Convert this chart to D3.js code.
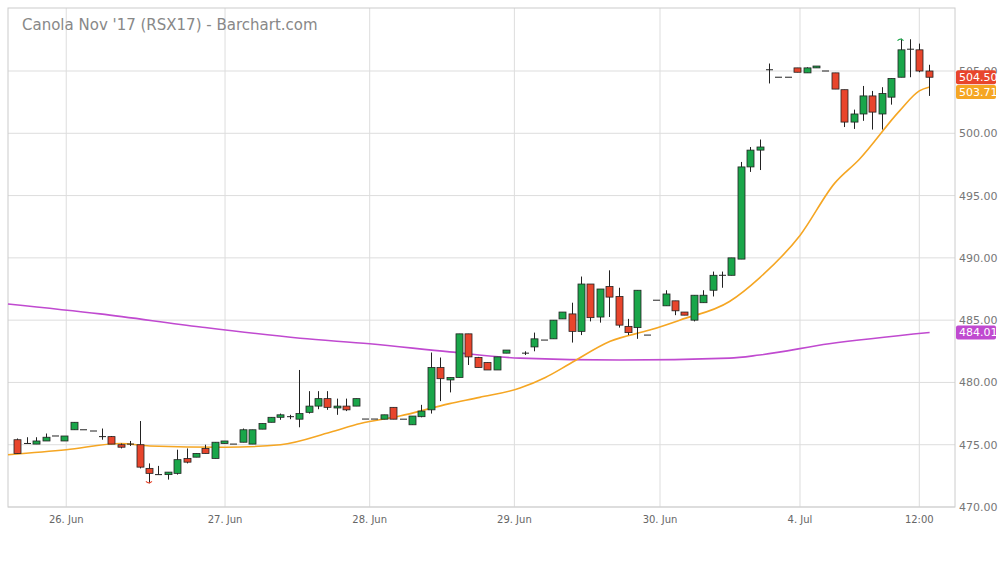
<!DOCTYPE html><html><head><meta charset="utf-8"><script src="https://cdn.jsdelivr.net/npm/d3@7"></script>
<style>body{margin:0;background:#fff;font-family:"DejaVu Sans",sans-serif}</style></head><body><svg id="c" width="1000" height="562"></svg>
<script>
const slot=[0,1,2,3,4,5,6,7,8,9,10,11,12,13,14,15,16,17,18,19,20,21,22,23,24,25,26,27,28,29,30,31,32,33,34,35,36,37,38,39,40,41,42,43,44,45,46,47,48,49,50,51,52,54,55,56,57,58,59,60,61,62,63,64,65,66,67,68,69,70,71,72,73,74,75,76,77,78,79,80,81,82,83,84,85,86,87,88,89,90,91,92,93,94,95,96,97];
const open=[475.4,475.1,475.05,475.3,475.7,475.3,476.2,476.2,476.1,475.65,475.65,475.0,475.05,475.0,473.1,472.6,472.6,472.7,473.9,474.0,474.7,473.9,475.1,475.05,475.2,475.05,476.25,476.8,477.2,477.25,477.05,477.6,478.1,478.7,477.95,478.1,478.1,477.06,477.06,477.05,478.0,477.05,476.6,477.25,477.8,481.2,480.2,480.4,483.9,482.0,481.6,481.0,482.35,482.35,482.85,483.4,483.5,485.1,485.5,484.1,487.9,485.25,487.7,486.9,484.5,484.4,483.8,486.6,486.15,486.55,485.65,485.0,486.4,487.4,488.6,488.6,489.9,497.3,498.65,505.1,504.5,504.5,505.25,504.85,505.25,505.0,504.85,503.5,500.9,501.55,503.0,501.55,502.9,504.5,506.75,506.7,505.0];
const high=[475.5,475.6,475.6,475.9,475.7,475.7,476.8,476.2,476.1,476.3,475.7,475.1,475.3,476.9,473.5,473.3,472.8,474.6,474.7,474.3,475.0,475.2,475.3,475.05,476.3,476.2,476.7,477.2,477.5,477.4,481.0,479.3,479.3,479.3,478.7,478.7,478.7,477.06,477.06,477.4,478.0,477.05,477.3,478.2,482.4,482.0,480.4,483.9,483.9,482.05,481.6,482.05,482.6,482.5,484.0,483.4,485.0,485.65,486.4,488.5,487.9,487.5,489.0,487.6,485.1,487.4,483.8,486.6,487.4,486.55,485.65,487.0,487.4,488.9,488.9,490.0,497.7,498.9,499.5,505.6,504.5,504.5,505.25,505.3,505.4,505.0,504.85,503.5,501.9,503.8,503.4,503.7,504.4,507.6,507.55,507.2,505.5];
const low=[474.3,475.1,475.05,475.3,475.7,475.3,476.2,476.2,476.1,475.4,475.05,474.7,474.9,473.1,471.9,472.6,472.2,472.6,473.5,474.0,474.3,473.9,475.1,475.05,475.2,475.05,476.25,476.8,477.0,477.05,476.4,477.5,477.85,477.8,477.4,477.7,478.1,477.06,477.06,477.05,477.05,477.05,476.6,477.2,477.5,478.5,479.2,480.4,481.4,481.2,481.0,481.0,482.35,482.2,482.5,483.4,483.5,485.1,483.2,483.8,484.9,484.8,485.25,484.4,483.8,483.5,483.8,486.6,486.15,485.4,485.4,484.9,486.4,486.9,487.6,488.6,489.9,496.9,497.05,504.0,504.5,504.5,504.9,504.85,505.25,505.0,503.55,500.5,500.35,501.0,500.3,500.3,502.3,504.5,504.5,504.9,503.0];
const close=[474.3,475.1,475.3,475.6,475.7,475.7,476.8,476.2,476.1,475.65,475.05,474.8,475.05,473.2,472.7,472.6,472.8,473.8,473.6,474.3,474.3,475.2,475.3,475.05,476.2,476.2,476.7,477.2,477.4,477.25,477.5,478.1,478.7,478.0,478.1,477.8,478.7,477.06,477.06,477.4,477.05,477.05,477.3,477.7,481.2,480.3,480.4,483.9,482.05,481.2,481.0,482.05,482.6,482.35,483.5,483.4,485.0,485.65,484.1,487.9,485.2,487.5,486.85,484.6,484.0,487.4,483.8,486.6,487.1,485.75,485.4,487.0,487.0,488.6,488.6,490.0,497.3,498.65,498.9,505.1,504.5,504.5,504.9,505.25,505.4,505.0,503.55,500.9,501.55,503.0,501.7,503.2,504.4,506.7,506.75,505.0,504.5];
const ma1x=[-1,5.2,11,14.1,22.1,28,33.3,36.5,40.7,46,49.2,53.5,56.2,58.8,63.1,67.3,70.5,75.8,79,83.3,87,89.6,93.9,96,97.1];
const ma1y=[474.2,474.6,475.1,474.9,474.8,475,476,476.7,477.3,478.3,478.8,479.55,480.4,481.5,483.3,484.2,485,486.5,488.4,491.8,496,497.9,501.8,503.4,503.71];
const ma2x=[-1,8.8,19.5,30.1,37.5,46,53.5,64.1,75.8,79,86.4,97.1];
const ma2y=[486.3,485.5,484.45,483.55,483.1,482.45,481.95,481.8,481.95,482.2,483.1,484.01];
const yTicks=[470,475,480,485,490,495,500,505];
const xTickSlots=[5.2,22.1,37.5,52.9,68.4,83.3,96];
const xTickLabels=["26. Jun","27. Jun","28. Jun","29. Jun","30. Jun","4. Jul","12:00"];

const svg=d3.select("#c");
const L=8,R=955,T=8,B=507;
const x=d3.scaleLinear().domain([-1,99.8]).range([L,R]);
const y=d3.scaleLinear().domain([470,508.2]).range([B,B-38.2*12.457]);
svg.append("g").selectAll("line").data(yTicks).join("line").attr("x1",L).attr("x2",R).attr("y1",d=>y(d)).attr("y2",d=>y(d)).attr("stroke","#ddd");
svg.append("g").selectAll("line").data(xTickSlots).join("line").attr("x1",d=>x(d)).attr("x2",d=>x(d)).attr("y1",T).attr("y2",B).attr("stroke","#ddd");
svg.append("rect").attr("x",L).attr("y",T).attr("width",R-L).attr("height",B-T).attr("fill","none").attr("stroke","#ccc");
svg.append("g").selectAll("text").data(yTicks).join("text").attr("x",959).attr("y",d=>y(d)+4).attr("font-size",11).attr("fill","#777").text(d=>d.toFixed(2));
svg.append("g").selectAll("text").data(xTickSlots).join("text").attr("x",d=>x(d)).attr("y",523).attr("text-anchor","middle").attr("font-size",10).attr("fill","#666").text((d,i)=>xTickLabels[i]);
svg.append("text").attr("x",22).attr("y",30).attr("font-size",15).attr("fill","#888").text("Canola Nov '17 (RSX17) - Barchart.com");
const line=d3.line().curve(d3.curveMonotoneX);
svg.append("path").attr("d",line(ma2x.map((d,i)=>[x(d),y(ma2y[i])]))).attr("fill","none").attr("stroke","#c04ad0").attr("stroke-width",1.6);
svg.append("path").attr("d",line(ma1x.map((d,i)=>[x(d),y(ma1y[i])]))).attr("fill","none").attr("stroke","#f5a623").attr("stroke-width",1.6);
const g=svg.append("g");
slot.forEach((t,i)=>{
  const cx=Math.round(x(t))+0.5,up=close[i]>=open[i];
  g.append("line").attr("x1",cx).attr("x2",cx).attr("y1",y(high[i])).attr("y2",y(low[i])).attr("stroke","#222");
  const y0=y(Math.max(open[i],close[i])),y1=y(Math.min(open[i],close[i]));
  if(y1-y0<1.2){g.append("line").attr("x1",cx-3.5).attr("x2",cx+3.5).attr("y1",y0).attr("y2",y0).attr("stroke","#222");}
  else g.append("rect").attr("x",cx-3.5).attr("y",y0).attr("width",7).attr("height",y1-y0).attr("fill",up?"#1aa64a":"#e8452c").attr("stroke","#222").attr("stroke-width",0.8);
});
const mk=(t,v,col,dy)=>svg.append("path").attr("d",`M${x(t)-3},${y(v)+dy} q3,${-dy*1.5} 6,0`).attr("fill","none").attr("stroke",col).attr("stroke-width",1.2);
mk(14,471.9,"#e8452c",-2);mk(94,507.6,"#1aa64a",2);
const tag=(v,col,txt,dy)=>{svg.append("rect").attr("x",956).attr("y",y(v)-7+dy).attr("width",40).attr("height",14).attr("rx",2).attr("fill",col);
 svg.append("text").attr("x",959).attr("y",y(v)+4+dy).attr("font-size",11).attr("fill","#fff").text(txt);};
tag(504.5,"#e8452c","504.50",0);tag(503.71,"#f5a623","503.71",5);tag(484.01,"#c04ad0","484.01",0);
</script></body></html>
